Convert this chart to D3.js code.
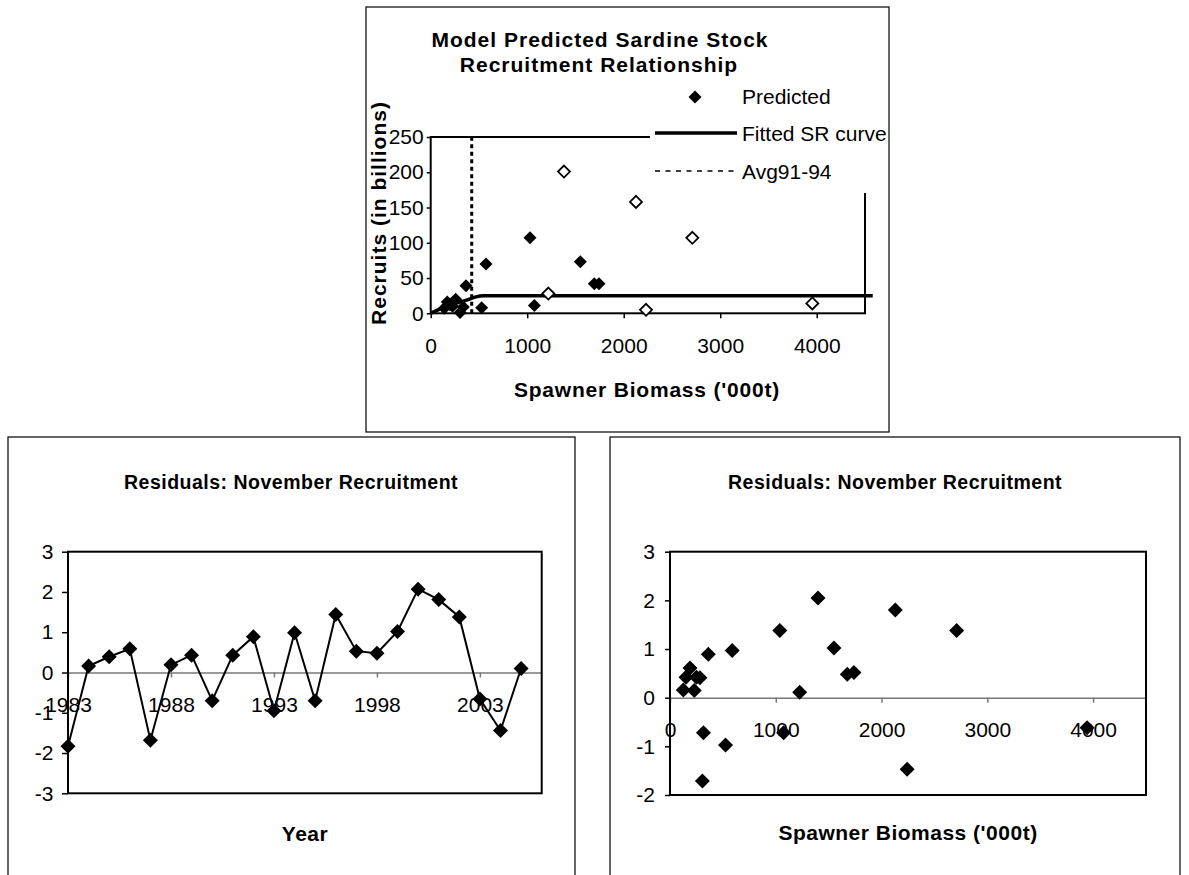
<!DOCTYPE html>
<html>
<head>
<meta charset="utf-8">
<script src="https://cdn.jsdelivr.net/npm/d3@7"></script>
<style>
  body { margin: 0; background: #fff; }
  svg text { font-family: "Liberation Sans", Arial, sans-serif; }
</style>
</head>
<body>
<svg id="chart" width="1189" height="875"></svg>
<script>
// stock-recruitment panel
const predBiomass  = [141, 172, 200, 226, 259, 304, 338, 366, 528, 573, 1029, 1074, 1550, 1695, 1744]
const predRecruits = [7, 16, 12, 10, 20, 1, 9, 39, 8, 70, 107, 11, 73, 42, 42]
const obsBiomass   = [1219, 1381, 2127, 2231, 2711, 3954]
const obsRecruits  = [28, 201, 158, 5, 107, 14]
const fitBiomass   = [0, 150, 300, 380, 460, 550, 4580]
const fitRecruits  = [0, 9, 16, 19, 23, 25, 25]
const avgBiomass   = 425
const srXTicks = [0, 1000, 2000, 3000, 4000]
const srYTicks = [0, 50, 100, 150, 200, 250]

// residuals by year
const years = [1983, 1984, 1985, 1986, 1987, 1988, 1989, 1990, 1991, 1992, 1993, 1994,
               1995, 1996, 1997, 1998, 1999, 2000, 2001, 2002, 2003, 2004, 2005]
const residYear = [-1.83, 0.16, 0.39, 0.59, -1.68, 0.19, 0.43, -0.70, 0.43, 0.89, -0.95, 0.99,
                   -0.70, 1.44, 0.53, 0.48, 1.02, 2.07, 1.81, 1.38, -0.66, -1.44, 0.10]
const yearTicks = [1983, 1988, 1993, 1998, 2003]
const residYTicks = [-3, -2, -1, 0, 1, 2, 3]

// residuals by spawner biomass
const residBiomass = [126, 151, 189, 229, 250, 283, 306, 316, 362, 525, 588, 1038, 1074,
                      1226, 1399, 1550, 1676, 1739, 2130, 2242, 2710, 3943]
const residSSB     = [0.16, 0.42, 0.61, 0.15, 0.42, 0.41, -1.71, -0.72, 0.89, -0.97, 0.97, 1.38, -0.72,
                      0.11, 2.05, 1.02, 0.48, 0.52, 1.80, -1.47, 1.38, -0.62]
const ssbXTicks = [0, 1000, 2000, 3000, 4000]
const ssbYTicks = [-2, -1, 0, 1, 2, 3]

const svg = d3.select('#chart')
svg.append('rect').attr('width', 1189).attr('height', 875).attr('fill', '#fff')

const diamond = r => `M0,${-r}L${r},0L0,${r}L${-r},0Z`
const FS = 21
const plain = d => String(d)   // hyphen minus, no thousands comma

const styleAxis = (g, col) => {
    g.selectAll('text').attr('font-size', FS).attr('fill', '#000')
        .style('font-family', '"Liberation Sans", Arial, sans-serif')
    g.selectAll('.tick line').attr('stroke', col).attr('stroke-width', 1.5)
}

const boldText = (g, txt, x, y, size = FS, ls = 0) => g.append('text')
    .attr('x', x).attr('y', y)
    .attr('text-anchor', 'middle')
    .attr('font-size', size).attr('font-weight', 'bold')
    .attr('letter-spacing', ls)
    .text(txt)

// ---------------- top: stock recruitment ----------------
{
    const box = { x: 366, y: 7, w: 523, h: 425 }
    const x = d3.scaleLinear().domain([0, 4500]).range([430.7, 865])
    const y = d3.scaleLinear().domain([0, 250]).range([313.3, 137])

    svg.append('clipPath').attr('id', 'topclip')
        .append('rect').attr('x', box.x).attr('y', box.y).attr('width', box.w).attr('height', box.h)

    const g = svg.append('g')

    // plot frame
    g.append('rect')
        .attr('x', x(0)).attr('y', y(250))
        .attr('width', x(4500) - x(0)).attr('height', y(0) - y(250))
        .attr('fill', 'none').attr('stroke', '#000').attr('stroke-width', 2)

    // avg 91-94 line
    g.append('line')
        .attr('x1', x(avgBiomass)).attr('x2', x(avgBiomass))
        .attr('y1', y(0)).attr('y2', y(250))
        .attr('stroke', '#000').attr('stroke-width', 3)
        .attr('stroke-dasharray', '4,3.5')

    const fitData = fitBiomass.map((b, i) => [b, fitRecruits[i]])
    g.append('path')
        .attr('d', d3.line().x(d => x(d[0])).y(d => y(d[1])).curve(d3.curveMonotoneX)(fitData))
        .attr('fill', 'none').attr('stroke', '#000').attr('stroke-width', 3.5)

    g.selectAll('path.pred')
        .data(predBiomass.map((b, i) => [b, predRecruits[i]]))
        .join('path')
        .attr('class', 'pred')
        .attr('transform', d => `translate(${x(d[0])},${y(d[1])})`)
        .attr('d', diamond(6.5))
        .attr('fill', '#000')

    g.selectAll('path.obs')
        .data(obsBiomass.map((b, i) => [b, obsRecruits[i]]))
        .join('path')
        .attr('class', 'obs')
        .attr('transform', d => `translate(${x(d[0])},${y(d[1])})`)
        .attr('d', diamond(6))
        .attr('fill', '#fff').attr('stroke', '#000').attr('stroke-width', 1.8)

    const ax = g.append('g').attr('transform', `translate(0,${y(0)})`)
        .call(d3.axisBottom(x).tickValues(srXTicks).tickFormat(plain)
            .tickSize(5).tickPadding(20).tickSizeOuter(0))
    ax.select('.domain').remove()
    styleAxis(ax, '#000')

    const ay = g.append('g').attr('transform', `translate(${x(0)},0)`)
        .call(d3.axisLeft(y).tickValues(srYTicks).tickFormat(plain)
            .tickSize(4).tickPadding(3).tickSizeOuter(0))
    ay.select('.domain').remove()
    styleAxis(ay, '#000')

    boldText(g, 'Model Predicted Sardine Stock', 600, 46.7, FS, 1)
    boldText(g, 'Recruitment Relationship', 599, 71.7, FS, 1)
    boldText(g, "Spawner Biomass ('000t)", 647, 396.7, FS, 0.8)
    boldText(g, 'Recruits (in billions)', 0, 0, FS, 1)
        .attr('transform', 'translate(386,213) rotate(-90)')

    // legend
    const lg = g.append('g').attr('clip-path', 'url(#topclip)')
    lg.append('rect').attr('x', 650).attr('y', 78).attr('width', 250).attr('height', 115).attr('fill', '#fff')
    lg.append('path').attr('transform', 'translate(695,97)').attr('d', diamond(6.5)).attr('fill', '#000')
    lg.append('line').attr('x1', 655).attr('x2', 737).attr('y1', 133).attr('y2', 133)
        .attr('stroke', '#000').attr('stroke-width', 3.5)
    lg.append('line').attr('x1', 655).attr('x2', 734).attr('y1', 171).attr('y2', 171)
        .attr('stroke', '#000').attr('stroke-width', 1.5).attr('stroke-dasharray', '5,5.5')
    const legendItems = ['Predicted', 'Fitted SR curve', 'Avg91-94']
    lg.selectAll('text.leg').data(legendItems).join('text')
        .attr('class', 'leg')
        .attr('x', 742).attr('y', (d, i) => [104, 141, 178.5][i])
        .attr('font-size', FS)
        .text(d => d)

    g.append('rect').attr('x', box.x).attr('y', box.y).attr('width', box.w).attr('height', box.h)
        .attr('fill', 'none').attr('stroke', '#000').attr('stroke-width', 1.2)
}

// ---------------- bottom left: residuals by year ----------------
{
    const box = { x: 8, y: 437, w: 567, h: 460 }
    const x = d3.scaleLinear().domain([1983, 2006]).range([68, 541.7])
    const y = d3.scaleLinear().domain([-3, 3]).range([793.3, 551.7])
    const g = svg.append('g')

    g.append('rect').attr('x', box.x).attr('y', box.y).attr('width', box.w).attr('height', box.h)
        .attr('fill', '#fff').attr('stroke', '#000').attr('stroke-width', 1.2)

    const ax = g.append('g').attr('transform', `translate(0,${y(0)})`)
        .call(d3.axisBottom(x).tickValues(yearTicks).tickFormat(plain)
            .tickSize(5).tickPadding(19.5).tickSizeOuter(0))
    ax.select('.domain').attr('stroke', '#777').attr('stroke-width', 1.5)
    styleAxis(ax, '#777')

    g.append('rect')
        .attr('x', x(1983)).attr('y', y(3))
        .attr('width', x(2006) - x(1983)).attr('height', y(-3) - y(3))
        .attr('fill', 'none').attr('stroke', '#000').attr('stroke-width', 2)

    const ay = g.append('g').attr('transform', `translate(${x(1983)},0)`)
        .call(d3.axisLeft(y).tickValues(residYTicks).tickFormat(plain)
            .tickSize(6).tickPadding(8.5).tickSizeOuter(0))
    ay.select('.domain').remove()
    styleAxis(ay, '#000')

    const pts = years.map((yr, i) => [yr, residYear[i]])
    g.append('path')
        .attr('d', d3.line().x(d => x(d[0])).y(d => y(d[1]))(pts))
        .attr('fill', 'none').attr('stroke', '#000').attr('stroke-width', 2)
    g.selectAll('path.pt').data(pts).join('path')
        .attr('class', 'pt')
        .attr('transform', d => `translate(${x(d[0])},${y(d[1])})`)
        .attr('d', diamond(7.5))
        .attr('fill', '#000')

    boldText(g, 'Residuals: November Recruitment', 291, 489, 19.5, 0.5)
    boldText(g, 'Year', 305, 841, FS, 0.5)
}

// ---------------- bottom right: residuals by biomass ----------------
{
    const box = { x: 610, y: 437, w: 570, h: 460 }
    const x = d3.scaleLinear().domain([0, 4500]).range([670, 1146])
    const y = d3.scaleLinear().domain([-2, 3]).range([795, 551.7])
    const g = svg.append('g')

    g.append('rect').attr('x', box.x).attr('y', box.y).attr('width', box.w).attr('height', box.h)
        .attr('fill', '#fff').attr('stroke', '#000').attr('stroke-width', 1.2)

    const ax = g.append('g').attr('transform', `translate(0,${y(0)})`)
        .call(d3.axisBottom(x).tickValues(ssbXTicks).tickFormat(plain)
            .tickSize(5).tickPadding(19).tickSizeOuter(0))
    ax.select('.domain').attr('stroke', '#777').attr('stroke-width', 1.5)
    styleAxis(ax, '#777')

    g.append('rect')
        .attr('x', x(0)).attr('y', y(3))
        .attr('width', x(4500) - x(0)).attr('height', y(-2) - y(3))
        .attr('fill', 'none').attr('stroke', '#000').attr('stroke-width', 2)

    const ay = g.append('g').attr('transform', `translate(${x(0)},0)`)
        .call(d3.axisLeft(y).tickValues(ssbYTicks).tickFormat(plain)
            .tickSize(5).tickPadding(10).tickSizeOuter(0))
    ay.select('.domain').remove()
    styleAxis(ay, '#000')

    g.selectAll('path.pt')
        .data(residBiomass.map((b, i) => [b, residSSB[i]]))
        .join('path')
        .attr('class', 'pt')
        .attr('transform', d => `translate(${x(d[0])},${y(d[1])})`)
        .attr('d', diamond(7.5))
        .attr('fill', '#000')

    boldText(g, 'Residuals: November Recruitment', 895, 489, 19.5, 0.5)
    boldText(g, "Spawner Biomass ('000t)", 908, 840, FS, 0.5)
}
</script>
</body>
</html>
